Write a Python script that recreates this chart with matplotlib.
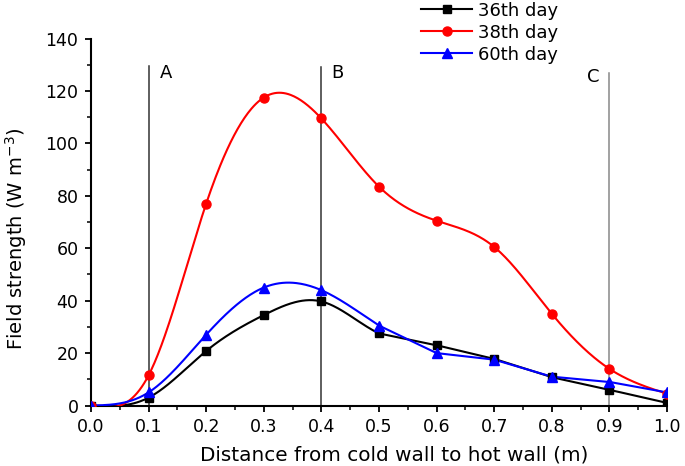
import numpy as np
import matplotlib
matplotlib.use("Agg")
import matplotlib.pyplot as plt
from matplotlib.ticker import MultipleLocator

plt.rcParams['font.family'] = ['DejaVu Sans']

x = [0.0, 0.1, 0.2, 0.3, 0.4, 0.5, 0.6, 0.7, 0.8, 0.9, 1.0]
day36 = [0.0, 3.0, 20.8, 34.5, 39.7, 27.5, 23.0, 17.8, 10.8, 6.0, 1.0]
day38 = [0.0, 11.5, 77.0, 117.5, 109.5, 83.5, 70.5, 60.5, 35.0, 14.0, 4.5]
day60 = [0.0, 5.0, 27.0, 45.0, 44.0, 30.5, 20.0, 17.5, 11.0, 9.0, 5.0]
labels = ["36th day", "38th day", "60th day"]
marks = ["A", "B", "C"]
mark_x = [0.1, 0.4, 0.9]


def natural_spline(xs, ys, xq):
    xs = np.asarray(xs, float)
    ys = np.asarray(ys, float)
    n = len(xs)
    h = np.diff(xs)
    A = np.zeros((n, n))
    b = np.zeros(n)
    A[0, 0] = 1
    A[-1, -1] = 1
    for i in range(1, n - 1):
        A[i, i - 1] = h[i - 1]
        A[i, i] = 2 * (h[i - 1] + h[i])
        A[i, i + 1] = h[i]
        b[i] = 3 * ((ys[i + 1] - ys[i]) / h[i] - (ys[i] - ys[i - 1]) / h[i - 1])
    c = np.linalg.solve(A, b)
    out = np.empty_like(xq)
    for k, q in enumerate(xq):
        i = min(max(np.searchsorted(xs, q) - 1, 0), n - 2)
        bb = (ys[i + 1] - ys[i]) / h[i] - h[i] * (2 * c[i] + c[i + 1]) / 3
        d = (c[i + 1] - c[i]) / (3 * h[i])
        t = q - xs[i]
        out[k] = ys[i] + bb * t + c[i] * t ** 2 + d * t ** 3
    return out


fig = plt.figure(figsize=(6.85, 4.66), dpi=100)
ax = fig.add_axes([0.1328, 0.1298, 0.8409, 0.7875])

xf = np.linspace(0, 1, 500)
red_curve = natural_spline(x, day38, xf)
blk_curve = natural_spline(x, day36, xf)
blu_curve = natural_spline(x, day60, xf)
mask = xf > 0.5
blk_curve[mask] = np.interp(xf[mask], x, day36)
blu_curve[mask] = np.interp(xf[mask], x, day60)

LW = 1.5
ax.plot(xf, blk_curve, color='black', lw=LW, zorder=3)
ax.plot(xf, red_curve, color='#ff0000', lw=LW, zorder=3)
ax.plot(xf, blu_curve, color='#0000ff', lw=LW, zorder=3)
ax.plot(x, day36, 's', color='black', ms=6, zorder=4)
ax.plot(x, day38, 'o', color='#ff0000', ms=6.5, zorder=4)
ax.plot(x, day60, '^', color='#0000ff', ms=7, zorder=4)

# legend proxies
h1, = ax.plot([], [], '-s', color='black', lw=LW, ms=6)
h2, = ax.plot([], [], '-o', color='#ff0000', lw=LW, ms=6.5)
h3, = ax.plot([], [], '-^', color='#0000ff', lw=LW, ms=7)
fig.legend([h1, h2, h3], labels, loc='upper left', bbox_to_anchor=(0.604, 1.012),
           frameon=False, fontsize=13, handlelength=2.85, handletextpad=0.3,
           labelspacing=0.22, numpoints=1, borderaxespad=0.0)

tops = [129.6, 129.0, 126.7]
lcols = ['#333333', '#333333', '#888888']
for mx, tp, lc in zip(mark_x, tops, lcols):
    ax.plot([mx, mx], [0, tp], color=lc, lw=1.1, zorder=2)
ax.text(0.130, 126.9, marks[0], fontsize=13, ha='center', va='center')
ax.text(0.427, 126.9, marks[1], fontsize=13, ha='center', va='center')
ax.text(0.872, 125.3, marks[2], fontsize=13, ha='center', va='center')

ax.set_xlim(0, 1.0)
ax.set_ylim(0, 140)
ax.xaxis.set_major_locator(MultipleLocator(0.1))
ax.xaxis.set_minor_locator(MultipleLocator(0.05))
ax.yaxis.set_major_locator(MultipleLocator(20))
ax.yaxis.set_minor_locator(MultipleLocator(10))
ax.set_xticklabels([f"{v:.1f}" for v in ax.get_xticks()])
ax.tick_params(which='major', direction='out', length=4.5, width=1.3, labelsize=12.5, pad=4.5)
ax.tick_params(which='minor', direction='out', length=2.8, width=1.1)
for s in ['top', 'right']:
    ax.spines[s].set_visible(False)
for s in ['left', 'bottom']:
    ax.spines[s].set_linewidth(1.5)

ax.set_xlabel("Distance from cold wall to hot wall (m)", fontsize=14.4, labelpad=7)
ax.set_ylabel("Field strength (W m$^{-3}$)", fontsize=14, labelpad=12)
ax.xaxis.label.set_x(0.526)
ax.yaxis.label.set_y(0.454)

fig.savefig("out.png", dpi=100)
